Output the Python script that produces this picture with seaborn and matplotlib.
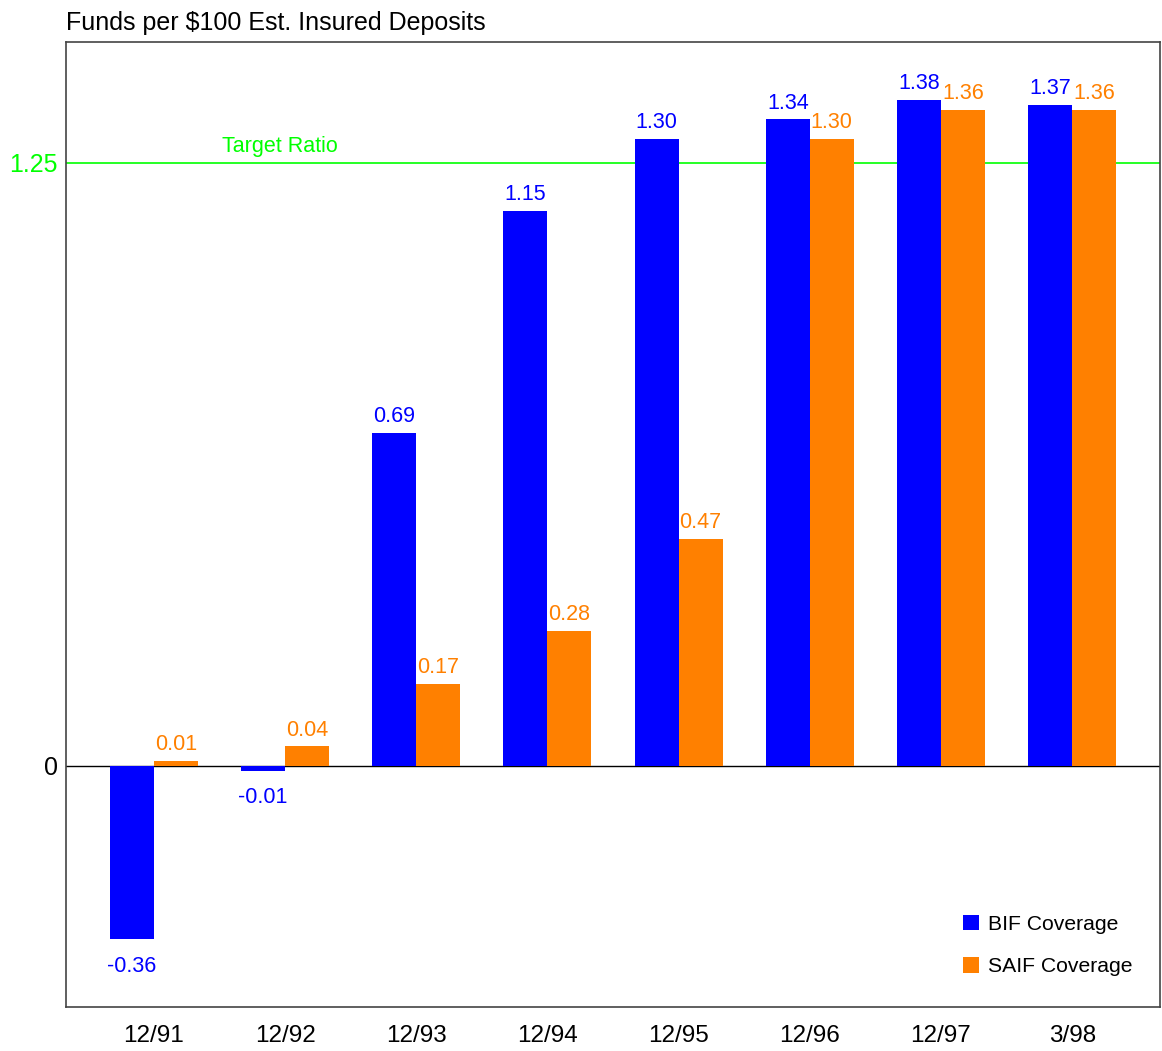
import seaborn as sns
import numpy as np
import pandas as pd
from matplotlib import pyplot as plt

periods = ['12/91', '12/92', '12/93', '12/94', '12/95', '12/96', '12/97', '3/98']
bif = [-0.36, -0.01, 0.69, 1.15, 1.30, 1.34, 1.38, 1.37]
saif = [0.01, 0.04, 0.17, 0.28, 0.47, 1.30, 1.36, 1.36]
series_names = ['BIF Coverage', 'SAIF Coverage']
series_colors = ['#0000FF', '#FF8000']
target_ratio = 1.25

df = pd.DataFrame({
    'Period': periods * 2,
    'Fund': [series_names[0]] * len(periods) + [series_names[1]] * len(periods),
    'Ratio': bif + saif,
})

sns.set_style('white')
plt.rcParams['font.family'] = ['Liberation Sans', 'DejaVu Sans']
plt.rcParams['text.color'] = 'black'
plt.rcParams['xtick.color'] = 'black'
plt.rcParams['ytick.color'] = 'black'

fig = plt.figure(figsize=(11.62, 10.51), dpi=100)
ax = fig.add_axes([0.0568, 0.0419, 0.9415, 0.9181])

ax.axhline(target_ratio, color='#00FF00', linewidth=1.2, zorder=1)
ax.axhline(0, color='black', linewidth=1.0, zorder=1)

sns.barplot(data=df, x='Period', y='Ratio', hue='Fund', order=periods,
            hue_order=series_names, palette=series_colors, width=0.67,
            saturation=1, ax=ax, zorder=3, errorbar=None, linewidth=0)

# value labels: above positive bars, below negative ones
for cont, col in zip(ax.containers, series_colors):
    pos = [f'{v:.2f}' if v >= 0 else '' for v in cont.datavalues]
    neg = [f'{v:.2f}' if v < 0 else '' for v in cont.datavalues]
    ax.bar_label(cont, labels=pos, padding=4, color=col, fontsize=15.5)
    ax.bar_label(cont, labels=neg, padding=12, color=col, fontsize=15.5)

ax.annotate('Target Ratio', xy=(0.96, target_ratio), xytext=(0, 4),
            textcoords='offset points', ha='center', va='bottom',
            color='#00FF00', fontsize=15.5)

ax.set_xlim(-0.67, 7.67)
ax.set_ylim(-0.5, 1.5)
ax.set_yticks([0, target_ratio])
ax.set_yticklabels(['0', '1.25'], fontsize=18)
ax.get_yticklabels()[1].set_color('#00FF00')
ax.tick_params(axis='both', length=0, pad=6)
ax.tick_params(axis='x', labelsize=17.5, pad=13)
ax.set_xlabel('')
ax.set_ylabel('')
for sp in ax.spines.values():
    sp.set_color('#444444')
    sp.set_linewidth(1.2)

handles, labels = ax.get_legend_handles_labels()
ax.legend(handles, labels, loc='lower right', bbox_to_anchor=(0.992, 0.012),
          frameon=False, fontsize=15.2, handlelength=0.75, handleheight=0.75,
          handletextpad=0.4, labelspacing=1.1)

fig.text(0.0568, 0.967, 'Funds per $100 Est. Insured Deposits', fontsize=18,
         ha='left', va='bottom')

plt.savefig('out.png', dpi=100)
plt.close()
